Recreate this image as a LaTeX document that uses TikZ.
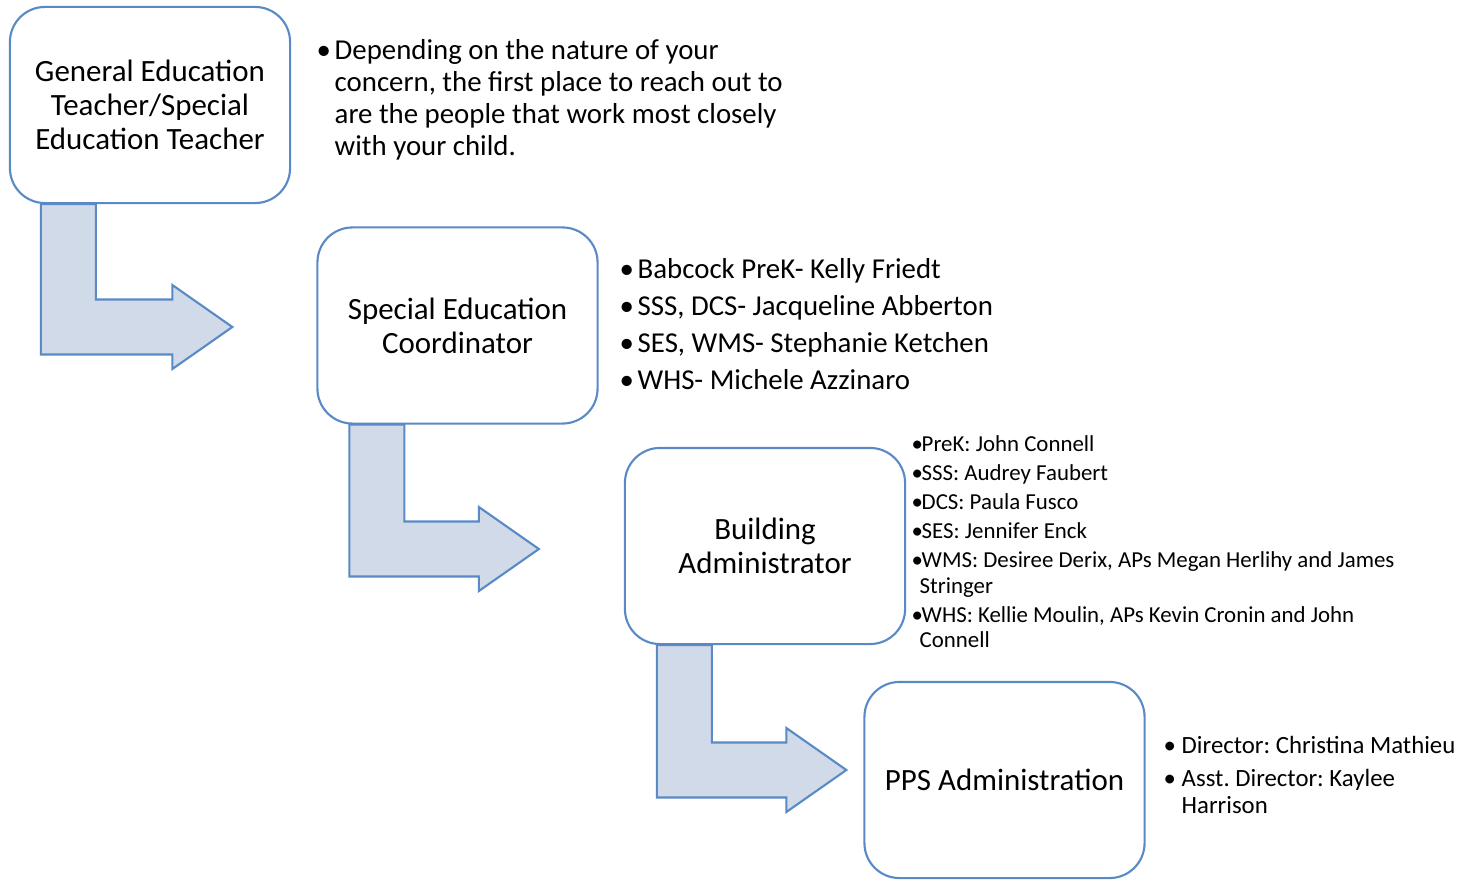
\documentclass[tikz,border=0pt]{standalone}
\usepackage{fontspec}
\setmainfont{Carlito}
\usetikzlibrary{positioning,calc,backgrounds}
\definecolor{stepline}{HTML}{5A8AC6}
\definecolor{stepfill}{HTML}{D1DAE9}

\tikzset{
  stage/.style={draw=stepline, line width=0.6pt, rounded corners=0.35cm, fill=white,
    minimum width=2.8cm, minimum height=1.96cm, align=center, inner sep=0pt,
    font=\fontsize{8.8}{9.67}\selectfont},
  notes/.style={anchor=north west, align=left, inner sep=0pt},
  bent/.style={draw=stepline, fill=stepfill, line width=0.6pt},
}
\newcommand{\itm}[1]{\makebox[#1][l]{\textbullet}}

\begin{document}
\frenchspacing
\begin{tikzpicture}[x=0.01cm, y=-0.01cm]
  \useasboundingbox (0,0) rectangle (1461,879);

  % Cajas de cada paso
  \node[stage] (gen) at (150,105) {General Education\\Teacher/Special\\Education Teacher};
  \node[stage] (sec) at (457.5,325.5) {Special Education\\Coordinator};
  \node[stage] (bld) at (765,546) {Building\\Administrator};
  \node[stage] (pps) at (1004.5,780) {PPS Administration};

  % Flechas dobladas entre pasos
  \coordinate (tip1) at ($(sec.west)+(-84,1.5)$);
  \coordinate (tip2) at ($(bld.west)+(-85,3)$);
  \coordinate (tip3) at ($(pps.west)+(-17,-10)$);
  \begin{pgfonlayer}{background}
    \draw[bent] ($(gen.south west)+(32,0)$) |- ($(tip1)+(-60,27.5)$) -- ++(0,14.5) -- (tip1)
      -- ++(-60,-42) -- ++(0,14.5) -| ($(gen.south west)+(87,0)$) -- cycle;
    \draw[bent] ($(sec.south west)+(33,0)$) |- ($(tip2)+(-60,27.5)$) -- ++(0,14.5) -- (tip2)
      -- ++(-60,-42) -- ++(0,14.5) -| ($(sec.south west)+(88,0)$) -- cycle;
    \draw[bent] ($(bld.south west)+(33,0)$) |- ($(tip3)+(-60,27.5)$) -- ++(0,14.5) -- (tip3)
      -- ++(-60,-42) -- ++(0,14.5) -| ($(bld.south west)+(88,0)$) -- cycle;
  \end{pgfonlayer}

  % Listas a la derecha de cada caja
  \node[notes, font=\fontsize{8.2}{9.1}\selectfont] (genNote) at (316,39)
    {\itm{0.18cm}Depending on the nature of your\\
     \hspace*{0.18cm}concern, the first place to reach out to\\
     \hspace*{0.18cm}are the people that work most closely\\
     \hspace*{0.18cm}with your child.};
  \node[notes, font=\fontsize{8.2}{10.5}\selectfont] (secNote) at (619,258)
    {\itm{0.18cm}Babcock PreK- Kelly Friedt\\
     \itm{0.18cm}SSS, DCS- Jacqueline Abberton\\
     \itm{0.18cm}SES, WMS- Stephanie Ketchen\\
     \itm{0.18cm}WHS- Michele Azzinaro};
  \node[notes, font=\fontsize{6.5}{7.25}\selectfont] (bldNote) at (911,435)
    {\itm{0.1cm}PreK: John Connell\\[0.035cm]
     \itm{0.1cm}SSS: Audrey Faubert\\[0.035cm]
     \itm{0.1cm}DCS: Paula Fusco\\[0.035cm]
     \itm{0.1cm}SES: Jennifer Enck\\[0.035cm]
     \itm{0.1cm}WMS: Desiree Derix, APs Megan Herlihy and James\\
     \hspace*{0.08cm}Stringer\\[0.035cm]
     \itm{0.1cm}WHS: Kellie Moulin, APs Kevin Cronin and John\\
     \hspace*{0.08cm}Connell};
  \node[notes, font=\fontsize{7.05}{7.7}\selectfont] (ppsNote) at (1163,736)
    {\itm{0.18cm}Director: Christina Mathieu\\[0.05cm]
     \itm{0.18cm}Asst. Director: Kaylee\\
     \hspace*{0.18cm}Harrison};
\end{tikzpicture}
\end{document}
